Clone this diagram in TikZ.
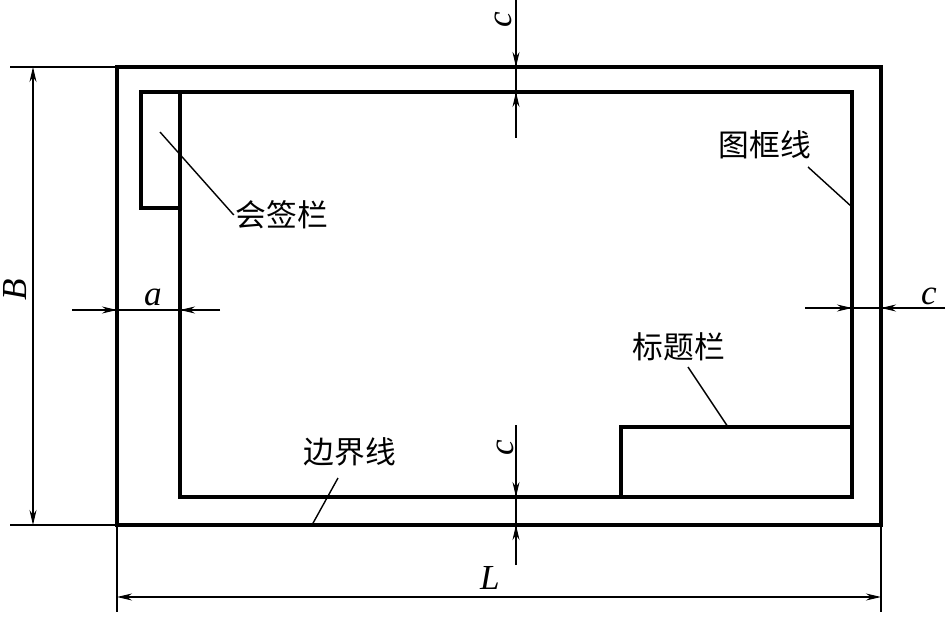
\documentclass[tikz,border=0pt]{standalone}
\usepackage{fontspec}
\setmainfont{Liberation Serif}
\newfontfamily\cjk{Noto Sans CJK SC}
\usetikzlibrary{arrows.meta}

\begin{document}
\begin{tikzpicture}[x=0.2mm,y=-0.2mm]
\tikzset{
% Line styles: border, frame and thin dimension lines
border line/.style={line width=2pt},
frame line/.style={line width=2.2pt},
thin line/.style={line width=0.8pt},
dim arrow/.style={thin line,-{Stealth[length=3mm,width=1.4mm]}},
dim both/.style={thin line,{Stealth[length=3mm,width=1.4mm]}-{Stealth[length=3mm,width=1.4mm]}},
% Two text styles: Chinese names and italic dimension letters
cn label/.style={font=\cjk\fontsize{17.5}{20}\selectfont,inner sep=1pt},
dim label/.style={font=\itshape\fontsize{20}{24}\selectfont,inner sep=1pt}
}
\useasboundingbox (0,0) rectangle (949,623);

% Corners of border and frame
\coordinate (o1) at (117,67);
\coordinate (o2) at (881,525);
\coordinate (f1) at (180,92);
\coordinate (f2) at (852,497);
\coordinate (hq) at (141,208);
\coordinate (bt) at (621,427);

% Border, frame, sign-off block and title block
\draw[border line] (o1) rectangle (o2);
\draw[frame line] (f1) rectangle (f2);
\draw[frame line] (f1) -| (hq) -- (hq -| f1);
\draw[frame line] (bt |- f2) |- (bt -| f2);

% Labels
\node(hql)[cn label] at (282,215) {会签栏};
\node(tkl)[cn label] at (765,145) {图框线};
\node(btl)[cn label] at (679,347) {标题栏};
\node(bjl)[cn label] at (350,452) {边界线};

% Leader lines
\coordinate (hq in) at (160,132);
\coordinate (tk top) at (808,167);
\coordinate (tk on) at (852,207);
\coordinate (bt top) at (688,367);
\coordinate (bt on) at (728,427);
\coordinate (bj top) at (338,478);
\coordinate (bj on) at (312,525);
\draw[thin line] (hq in) -- (hql.west);
\draw[thin line] (tk top) -- (tk on);
\draw[thin line] (bt top) -- (bt on);
\draw[thin line] (bj top) -- (bj on);

% Dimension B
\coordinate (B1) at (10,67);
\coordinate (B2) at (10,525);
\draw[thin line] (B1) -- (o1);
\draw[thin line] (B2) -- (o1 |- o2);
\draw[dim both] (33,67) -- (33,525);
\node(Bl)[dim label,rotate=90] at (15,290) {B};

% Dimension L
\coordinate (L1) at (117,612);
\coordinate (L2) at (881,612);
\draw[thin line] (o1 |- o2) -- (L1);
\draw[thin line] (o2) -- (L2);
\draw[dim both] (117,597) -- (881,597);
\node(Ll)[dim label] at (490,578) {L};

% Dimension a
\coordinate (a1) at (72,310);
\coordinate (a2) at (220,310);
\draw[thin line] (a1) -- (a2);
\draw[dim arrow] (a1) -- (o1 |- a1);
\draw[dim arrow] (a2) -- (f1 |- a2);
\node(al)[dim label] at (153,297) {a};

% Dimension c, top
\coordinate (ct1) at (516,0);
\coordinate (ct2) at (516,138);
\draw[thin line] (ct1) -- (ct2);
\draw[dim arrow] (ct1) -- (ct1 |- o1);
\draw[dim arrow] (ct2) -- (ct2 |- f1);
\node(ctl)[dim label,rotate=90] at (503,20) {c};

% Dimension c, right
\coordinate (cr1) at (805,308);
\coordinate (cr2) at (945,308);
\draw[thin line] (cr1) -- (cr2);
\draw[dim arrow] (cr1) -- (f2 |- cr1);
\draw[dim arrow] (cr2) -- (o2 |- cr2);
\node(crl)[dim label] at (929,296) {c};

% Dimension c, bottom
\coordinate (cb1) at (516,425);
\coordinate (cb2) at (516,565);
\draw[thin line] (cb1) -- (cb2);
\draw[dim arrow] (cb1) -- (cb1 |- f2);
\draw[dim arrow] (cb2) -- (cb2 |- o2);
\node(cbl)[dim label,rotate=90] at (505,448) {c};
\end{tikzpicture}
\end{document}
